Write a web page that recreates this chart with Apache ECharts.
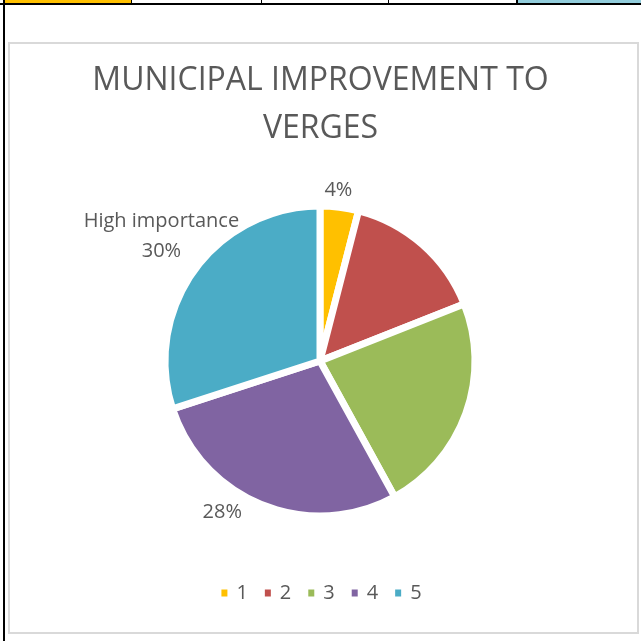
<!DOCTYPE html>
<html>
<head>
<meta charset="utf-8">
<script src="https://cdn.jsdelivr.net/npm/echarts@6/dist/echarts.min.js"></script>
<style>
    html, body { margin: 0; padding: 0; background: #fff; }
    #wrap { position: relative; width: 641px; height: 641px; overflow: hidden; }
    /* spreadsheet cells peeking above the chart */
    .cell { position: absolute; top: 0; height: 3px; }
    #hline { position: absolute; left: 0; top: 3px; width: 641px; height: 2px; background: #000; }
    #vline { position: absolute; left: 3px; top: 0; width: 2px; height: 641px; background: #000; }
    #frame { position: absolute; left: 8px; top: 42px; width: 627px; height: 588px; border: 2px solid #d9d9d9; }
    #chart { position: absolute; left: 0; top: 0; width: 641px; height: 641px; }
</style>
</head>
<body>
<div id="wrap">
    <div class="cell" style="left:5px;width:126px;background:#ffc000"></div>
    <div class="cell" style="left:131px;width:1px;background:#000"></div>
    <div class="cell" style="left:261px;width:1px;background:#000"></div>
    <div class="cell" style="left:388px;width:1px;background:#000"></div>
    <div class="cell" style="left:516px;width:2px;background:#000"></div>
    <div class="cell" style="left:518px;width:123px;background:#92cddc"></div>
    <div id="hline"></div>
    <div id="vline"></div>
    <div id="frame"></div>
    <div id="chart"></div>
</div>
<script>
    var categories = ['1', '2', '3', '4', '5'];
    var values = [4, 15, 23, 28, 30];
    var colors = ['#ffc000', '#c0504d', '#9bbb59', '#8064a2', '#4bacc6'];
    // which slices carry a label in the original, and the name shown in front of the %
    var labelShown = [true, false, false, true, true];
    var labelNames = ['', '', '', '', 'High importance'];

    var txt = '#595959';
    var font = '"Open Sans", "Liberation Sans", sans-serif';

    // small nudges so labels sit where excel put them (centered text)
    var nudgeX = [-21, 0, 0, -13, 56];
    var nudgeY = [-9, 0, 0, 0, -29];

    var pieData = [];
    for (var i = 0; i < categories.length; i++) {
        pieData.push({
            name: categories[i],
            value: values[i],
            itemStyle: { color: colors[i] },
            label: { show: labelShown[i] }
        });
    }

    var chart = echarts.init(document.getElementById('chart'));
    var option = {
        animation: false,
        title: {
            text: 'MUNICIPAL IMPROVEMENT TO\nVERGES',
            left: 'center',
            top: 52,
            textStyle: {
                color: txt,
                fontFamily: font,
                fontWeight: 'normal',
                fontSize: 32,
                lineHeight: 48
            }
        },
        legend: {
            bottom: 33,
            left: 'center',
            icon: 'rect',
            itemWidth: 8,
            itemHeight: 9,
            itemGap: 15,
            textStyle: { color: txt, fontFamily: font, fontSize: 20, padding: [0, 0, 0, 3] },
            data: categories
        },
        series: [{
            type: 'pie',
            center: [320, 361],
            radius: 155,
            startAngle: 90,
            clockwise: true,
            itemStyle: { borderColor: '#fff', borderWidth: 7 },
            label: {
                position: 'outside',
                color: txt,
                fontFamily: font,
                fontSize: 20,
                lineHeight: 30,
                formatter: function (p) {
                    var pct = Math.round(p.percent) + '%';
                    var nm = labelNames[p.dataIndex];
                    return nm ? nm + '\n' + pct : pct;
                }
            },
            labelLine: { show: false, length: 8, length2: 0 },
            labelLayout: function (params) {
                var r = params.labelRect;
                var k = params.dataIndex;
                return {
                    x: r.x + r.width / 2 + nudgeX[k],
                    y: r.y + r.height / 2 + nudgeY[k],
                    align: 'center',
                    verticalAlign: 'middle'
                };
            },
            emphasis: { disabled: true },
            data: pieData
        }]
    };
    chart.setOption(option);
</script>
</body>
</html>
